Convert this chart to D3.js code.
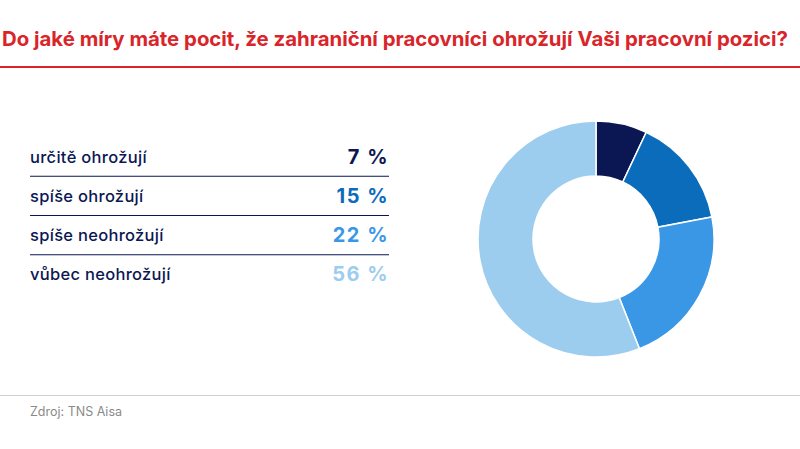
<!DOCTYPE html>
<html><head><meta charset="utf-8">
<script src="https://cdn.jsdelivr.net/npm/d3@7"></script>
<style>body{margin:0;background:#fff}svg{display:block}</style>
</head><body>
<script>
const categories=["určitě ohrožují","spíše ohrožují","spíše neohrožují","vůbec neohrožují"];
const values=[7,15,22,56];
const labels=["7 %","15 %","22 %","56 %"];
const colors=["#0b1752","#0a6cbb","#3a97e6","#9ccdef"];
const W=800,H=449;
const svg=d3.select("body").append("svg").attr("width",W).attr("height",H);
const font="Inter, 'Open Sans', sans-serif";
const title=svg.append("text").attr("x",2).attr("y",46).attr("fill","#d9252a").attr("font-family",font)
 .attr("font-weight",700).attr("font-size",17).text("Do jaké míry máte pocit, že zahraniční pracovníci ohrožují Vaši pracovní pozici?");
const tw=title.node().getComputedTextLength();
if(tw>0) title.attr("font-size",17*786/tw);
svg.append("rect").attr("x",0).attr("y",66).attr("width",W).attr("height",2).attr("fill","#d9252a");
const y=d3.scaleBand().domain(categories).range([137,294]);
categories.forEach((c,i)=>{
 const yc=y(c)+y.bandwidth()/2;
 svg.append("text").attr("x",30).attr("y",yc+6).attr("fill","#0b1752").attr("font-family",font)
  .attr("font-size",16.5).attr("font-weight",500).attr("letter-spacing",0.3).text(c);
 svg.append("text").attr("x",389).attr("y",yc+7).attr("text-anchor","end").attr("fill",colors[i]).attr("font-family",font)
  .attr("font-size",20).attr("font-weight",700).attr("letter-spacing",1.5).text(labels[i]);
 if(i<categories.length-1) svg.append("line").attr("x1",30).attr("x2",389).attr("y1",y(c)+y.bandwidth()).attr("y2",y(c)+y.bandwidth()).attr("stroke","#0b1752").attr("stroke-width",1.2);
});
const pie=d3.pie().sort(null)(values);
const arc=d3.arc().innerRadius(63).outerRadius(118);
svg.append("g").attr("transform","translate(596,239)").selectAll("path").data(pie).join("path")
 .attr("d",arc).attr("fill",(d,i)=>colors[i]).attr("stroke","#fff").attr("stroke-width",1.5);
svg.append("rect").attr("x",0).attr("y",395).attr("width",W).attr("height",1).attr("fill","#cfcfcf");
svg.append("text").attr("x",30).attr("y",416).attr("fill","#8a8a8a").attr("font-family",font).attr("font-size",12.5).text("Zdroj: TNS Aisa");
</script>
</body></html>
